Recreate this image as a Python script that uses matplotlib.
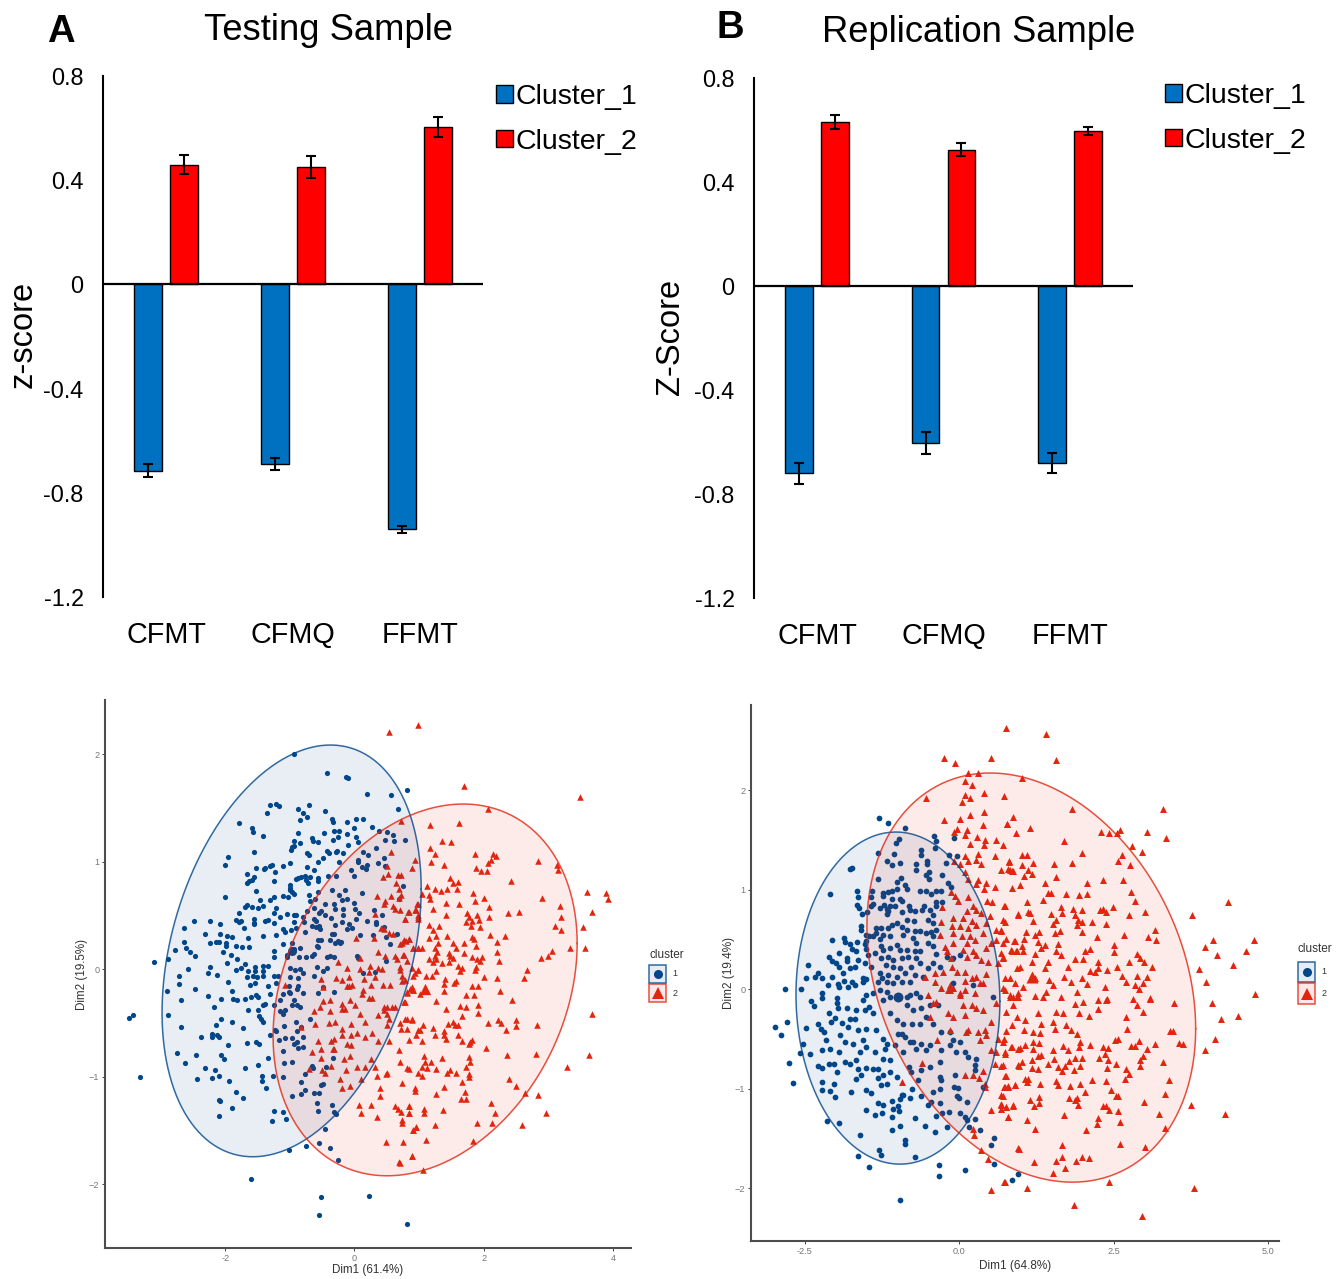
import numpy as np
import matplotlib
matplotlib.use("Agg")
import matplotlib.pyplot as plt
from matplotlib.patches import Rectangle
from matplotlib.lines import Line2D
from matplotlib.transforms import Affine2D

plt.rcParams['font.family'] = ['Liberation Sans', 'DejaVu Sans']

W, H = 1336, 1279

# bar panels
categories = ["CFMT", "CFMQ", "FFMT"]
series_names = ["Cluster_1", "Cluster_2"]
yticks_bar = [0.8, 0.4, 0, -0.4, -0.8, -1.2]
yticklabels_bar = ["0.8", "0.4", "0", "-0.4", "-0.8", "-1.2"]

testing_c1 = [-0.715, -0.69, -0.94]
testing_c1_err = [0.025, 0.023, 0.014]
testing_c2 = [0.46, 0.45, 0.605]
testing_c2_err = [0.038, 0.042, 0.038]

replication_c1 = [-0.72, -0.605, -0.68]
replication_c1_err = [0.04, 0.042, 0.038]
replication_c2 = [0.63, 0.525, 0.595]
replication_c2_err = [0.027, 0.024, 0.015]

# scatter, testing sample (Dim1, Dim2)
testing_blue = [
(-0.94,2.0),(-0.42,1.83),(-0.13,1.79),(-0.10,1.78),(0.20,1.63),(0.56,1.62),(0.82,1.67),(0.67,1.49),(-1.22,1.54),(-1.30,1.53),
(-1.16,1.52),(-1.36,1.45),(-0.71,1.53),(-0.87,1.49),(-0.80,1.45),(-0.73,1.42),(-0.85,1.39),(-0.45,1.47),(-0.34,1.40),(-0.33,1.37),
(-0.11,1.37),(0.02,1.40),(0.13,1.40),(-1.79,1.36),(-1.58,1.31),(-1.57,1.28),(-1.41,1.24),(-0.87,1.27),(-0.47,1.27),(-0.31,1.29),
(-0.24,1.29),(-0.12,1.26),(0.0,1.31),(0.27,1.32),(0.38,1.29),(0.51,1.28),(0.59,1.25),(0.78,1.20),(0.61,1.19),(0.48,1.20),
(0.03,1.23),(-0.26,1.23),(-0.33,1.20),(-0.65,1.22),(-0.64,1.19),(-0.56,1.18),(0.06,1.18),(-0.10,1.16),(0.33,1.13),(-0.94,1.19),
(-0.84,1.17),(-0.97,1.14),(-0.98,1.11),(-0.93,1.15),(-1.55,1.09),(-1.95,1.04),(-2.01,0.97),(-0.73,1.08),(-0.70,1.06),(-0.43,1.10),
(-0.39,1.08),(-0.27,1.10),(-0.29,1.09),(-0.17,1.08),(0.13,1.09),(0.21,1.06),(0.46,1.03),(-0.49,1.03),(-0.57,1.00),(-0.24,1.00),
(-1.00,0.99),(-1.11,0.96),(-1.28,0.97),(-1.31,0.96),(-1.38,0.94),(-1.40,0.93),(-1.53,0.94),(-0.73,0.95),(-0.63,0.92),(0.05,1.02),
(0.05,1.00),(0.19,0.97),(0.11,0.95),(0.18,0.93),(0.36,0.99),(0.48,0.96),(-0.06,0.92),(-1.23,0.90),(-1.66,0.89),(-1.56,0.86),
(-0.57,0.85),(-0.41,0.87),(-0.29,0.87),(0.0,0.87),(-0.82,0.86),(-0.76,0.87),(-0.91,0.84),(-0.87,0.85),(-0.69,0.86),(-0.75,0.83),
(-0.72,0.80),(-1.59,0.83),(-1.63,0.82),(-1.66,0.80),(-1.25,0.82),(-0.57,0.82),(-0.99,0.78),(-0.99,0.76),(-0.99,0.74),(0.75,0.77),
(-1.53,0.73),(-0.35,0.74),(-0.14,0.74),(-0.96,0.72),(-0.93,0.70),(-0.56,0.72),(0.11,0.71),(-0.70,0.69),(-0.24,0.69),(-1.10,0.68),
(-1.03,0.67),(-2.00,0.67),(-1.25,0.67),(-1.30,0.64),(-1.46,0.64),(-0.61,0.65),(-0.20,0.64),(-0.12,0.65),(0.69,0.65),(-0.68,0.63),
(-0.46,0.61),(-0.31,0.61),(-0.01,0.62),(-1.67,0.60),(-1.70,0.58),(-1.50,0.57),(-1.41,0.59),(-1.59,0.58),(-1.22,0.57),(-0.30,0.56),
(-0.17,0.56),(-0.62,0.57),(-0.52,0.54),(-0.55,0.52),(0.01,0.56),(0.07,0.52),(0.30,0.55),(-1.78,0.52),(-1.84,0.46),(-1.78,0.44),
(-1.76,0.45),(-1.25,0.52),(-1.05,0.51),(-1.15,0.49),(-0.94,0.50),(-0.90,0.50),(-0.80,0.49),(-0.73,0.54),(-0.45,0.50),(-0.37,0.48),
(-0.17,0.50),(0.43,0.50),(-0.62,0.47),(-0.59,0.45),(-2.49,0.45),(-2.23,0.45),(-2.08,0.42),(-1.55,0.47),(-1.56,0.43),(-1.56,0.42),
(-1.38,0.45),(-1.34,0.46),(-1.25,0.43),(-0.94,0.44),(-0.78,0.44),(-0.19,0.44),(0.02,0.47),(0.20,0.45),(0.33,0.44),(0.34,0.42),
(-1.71,0.38),(-2.63,0.38),(-1.10,0.37),(-1.07,0.35),(-0.98,0.36),(-0.91,0.38),(-0.76,0.35),(-0.65,0.40),(-0.59,0.39),(-0.55,0.40),
(-0.54,0.37),(-0.30,0.41),(-0.09,0.42),(-0.12,0.37),(-0.03,0.38),(0.45,0.39),(-2.31,0.33),(-2.08,0.33),(-1.97,0.31),(-1.90,0.30),
(-1.42,0.31),(-1.21,0.32),(-0.34,0.33),(-0.31,0.33),(0.09,0.32),(0.29,0.32),(0.66,0.33),(-1.65,0.29),(0.49,0.30),(-0.56,0.27),
(-0.52,0.27),(-0.38,0.27),(-0.22,0.24),(-0.25,0.26),(-2.63,0.25),(-2.60,0.20),(-2.55,0.16),(-2.47,0.12),(-2.14,0.25),(-2.10,0.25),
(-2.23,0.24),(-1.98,0.24),(-1.99,0.22),(-1.84,0.22),(-1.74,0.21),(-1.63,0.21),(-1.11,0.23),(-0.96,0.24),(-0.58,0.22),(-0.56,0.21),
(-0.30,0.24),(-0.21,0.25),(0.55,0.23),(-2.78,0.18),(-2.89,0.09),(-3.10,0.07),(-2.03,0.16),(-1.91,0.13),(-1.25,0.17),(-1.24,0.11),
(-0.97,0.18),(-0.94,0.19),(-0.99,0.16),(-0.85,0.20),(-1.05,0.13),(-1.05,0.11),(-0.86,0.11),(-0.75,0.11),(-0.66,0.12),(-0.63,0.14),
(-0.43,0.11),(-0.38,0.12),(-0.31,0.11),(0.04,0.12),(0.06,0.10),(-1.81,0.09),(-1.70,0.05),(-1.76,0.01),(-1.84,-0.01),(-1.97,0.06),
(-2.58,0.0),(-2.23,0.02),(-2.27,-0.04),(-2.13,-0.05),(-2.71,-0.06),(-2.71,-0.14),(-1.54,0.02),(-1.41,0.03),(-1.34,0.03),(-1.64,-0.02),
(-1.54,-0.02),(-1.42,-0.02),(-1.66,-0.07),(-1.57,-0.06),(-1.51,-0.07),(-1.41,-0.06),(-1.25,-0.06),(-1.18,-0.06),(-1.00,0.01),(-0.92,-0.01),
(-0.85,0.0),(-0.79,-0.04),(-0.99,-0.07),(-0.87,-0.08),(-0.63,-0.06),(-0.58,0.02),(-0.42,0.01),(-0.48,-0.02),(0.14,-0.04),(0.32,-0.03),
(0.49,0.08),(-1.95,-0.12),(-1.54,-0.13),(-1.61,-0.15),(-1.33,-0.16),(-1.21,-0.13),(-2.47,-0.18),(-1.02,-0.16),(-0.88,-0.16),(-2.90,-0.20),
(-1.90,-0.20),(-2.26,-0.25),(-2.68,-0.29),(-2.06,-0.28),(-1.88,-0.28),(-1.82,-0.29),(-1.69,-0.28),(-1.60,-0.255),(-1.52,-0.24),(-1.50,-0.26),
(-1.31,-0.23),(-2.18,-0.35),(-1.38,-0.32),(-1.42,-0.33),(-1.65,-0.38),(-1.49,-0.38),(-2.88,-0.43),(-3.42,-0.43),(-3.49,-0.45),(-2.07,-0.46),
(-2.14,-0.52),(-1.89,-0.49),(-2.69,-0.54),(-1.48,-0.44),(-1.45,-0.46),(-1.41,-0.49),(-1.72,-0.55),(-2.20,-0.60),(-2.20,-0.63),(-2.12,-0.61),
(-2.10,-0.63),(-2.37,-0.63),(-1.31,-0.61),(-1.67,-0.69),(-1.52,-0.68),(-1.48,-0.70),(-1.95,-0.71),(-2.74,-0.78),(-2.45,-0.80),(-2.06,-0.80),
(-2.02,-0.84),(-1.33,-0.83),(-2.62,-0.87),(-1.50,-0.89),(-2.32,-0.92),(-2.15,-0.94),(-1.70,-0.92),(-3.32,-1.0),(-2.09,-0.99),(-2.20,-1.01),
(-2.44,-1.02),(-1.94,-1.04),(-1.43,-0.99),(-1.43,-1.04),(-1.26,-0.99),(-1.37,-1.11),(-1.83,-1.14),(-1.72,-1.20),(-2.10,-1.22),(-2.08,-1.23),
(-1.90,-1.29),(-2.09,-1.37),(-1.24,-1.32),(-1.11,-1.33),(-1.28,-1.41),(-1.06,-1.39),(-1.01,-1.68),(-1.60,-1.95),(-0.51,-2.12),(0.22,-2.11),
(-0.55,-2.29),(0.82,-2.37),(-0.75,-1.65),(-0.55,-1.62),(-0.38,-1.66),(-0.25,-1.78),(-0.46,-1.49),(-0.35,-1.26),(-0.31,-1.33),(-0.29,-1.35),
(-0.57,-1.32),(-0.58,-1.25),(-0.62,-1.15),(-0.55,-1.15),(-0.51,-1.08),(-0.48,-1.07),(-0.76,-1.12),(-0.82,-1.16),(-0.97,-1.18),(-0.82,-1.05),
(-1.11,-1.0),(-1.09,-0.87),(-0.97,-0.86),(-1.11,-0.76),(-0.66,-0.90),(-0.64,-0.92),(-0.44,-0.91),(-0.76,-0.98),(-0.33,-0.83),(-0.87,-0.73),
(-0.79,-0.72),(-0.93,-0.70),(-1.17,-0.66),(-1.08,-0.64),(-0.97,-0.64),(-0.89,-0.68),(-0.79,-0.63),(-1.23,-0.57),(-1.21,-0.58),(-1.09,-0.53),
(-0.91,-0.49),(-0.89,-0.58),(-0.83,-0.54),(-0.68,-0.46),(-1.15,-0.39),(-1.11,-0.42),(-1.07,-0.38),(-0.97,-0.33),(-0.89,-0.33),(-0.85,-0.35),
(-1.25,-0.33),(-1.15,-0.29),(-0.93,-0.29),(-1.11,-0.23),(-1.02,-0.21),(-0.99,-0.22),(-0.89,-0.18),(-0.80,-0.22),(-0.57,-0.22),(-0.31,-0.21),
(-0.49,-0.17),
]

testing_red = [
(0.54,2.21),(0.99,2.27),(0.72,1.38),(0.56,1.09),(0.94,1.02),(0.89,0.94),(0.50,0.96),(0.52,0.89),(0.44,0.86),(0.67,0.88),
(0.72,0.88),(0.65,0.80),(0.69,0.75),(0.72,0.69),(0.69,0.66),(0.35,0.68),(0.56,0.68),(0.47,0.63),(0.46,0.61),(0.59,0.59),
(0.63,0.56),(0.70,0.55),(0.84,0.53),(0.94,0.55),(0.98,0.61),(0.99,0.49),(0.32,0.51),(0.78,0.47),(0.41,0.38),(0.46,0.37),
(0.54,0.34),(0.60,0.33),(0.02,0.29),(0.31,0.29),(0.84,0.28),(0.76,0.27),(0.71,0.23),(0.80,0.26),(0.73,0.24),(0.91,0.20),
(0.98,0.20),(0.36,0.16),(0.47,0.12),(0.63,0.12),(0.75,0.13),(0.81,0.08),(0.66,0.09),(-0.25,0.07),(0.08,0.10),(-0.11,0.01),
(0.08,0.0),(0.24,0.03),(0.36,0.01),(0.43,0.0),(0.71,0.02),(0.71,-0.01),(0.94,-0.04),(0.99,-0.01),(0.23,-0.03),(0.32,-0.07),
(-0.51,-0.09),(-0.28,-0.08),(-0.19,-0.10),(-0.09,-0.07),(0.15,-0.09),(0.74,-0.06),(0.73,-0.11),(-1.07,-0.15),(-0.12,-0.16),(-0.04,-0.15),
(0.26,-0.15),(0.44,-0.15),(0.55,-0.15),(0.89,-0.17),(-0.48,-0.17),(-0.09,-0.16),(0.14,-0.19),(0.82,-0.21),(0.90,-0.19),(0.12,-0.23),
(-0.38,-0.29),(-0.48,-0.30),(-0.53,-0.35),(-0.20,-0.32),(-0.07,-0.29),(0.01,-0.33),(0.22,-0.27),(0.27,-0.27),(-0.62,-0.39),(-0.38,-0.39),
(-0.20,-0.37),(-0.14,-0.37),(0.45,-0.35),(0.50,-0.35),(0.58,-0.35),(0.63,-0.35),(0.45,-0.38),(0.76,-0.31),(0.09,-0.42),(0.37,-0.43),
(0.50,-0.42),(0.53,-0.46),(-0.61,-0.51),(-0.39,-0.50),(-0.30,-0.49),(-0.05,-0.51),(0.17,-0.49),(0.50,-0.52),(0.71,-0.50),(0.81,-0.46),
(0.89,-0.46),(-0.83,-0.54),(-0.20,-0.56),(-0.06,-0.61),(0.04,-0.59),(0.17,-0.63),(0.27,-0.59),(-0.20,-0.61),(0.72,-0.56),(0.81,-0.56),
(0.99,-0.57),(-0.57,-0.67),(-0.37,-0.67),(-0.31,-0.65),(-0.12,-0.70),(-0.06,-0.71),(0.37,-0.67),(0.53,-0.67),(0.85,-0.66),(-0.66,-0.77),
(-0.52,-0.74),(-0.33,-0.74),(-0.31,-0.74),(0.69,-0.75),(0.71,-0.86),(-0.07,-0.81),(-0.16,-0.84),(-0.52,-0.83),(0.25,-0.84),(0.32,-0.91),
(-0.71,-0.93),(-0.50,-0.94),(-0.45,-0.97),(-0.37,-0.90),(-0.13,-0.94),(0.04,-0.91),(0.17,-0.91),(0.35,-0.99),(0.84,-0.93),(0.49,-0.98),
(0.51,-0.97),(-0.22,-1.02),(0.10,-1.02),(0.98,-0.97),(0.73,-1.06),(-0.20,-1.11),(-0.07,-1.09),(0.39,-1.11),(0.40,-1.18),(0.93,-1.11),
(0.07,-1.26),(0.26,-1.26),(0.63,-1.27),(0.68,-1.30),(0.85,-1.27),(0.10,-1.34),(0.35,-1.38),(0.72,-1.33),(0.85,-1.34),(0.74,-1.40),
(0.73,-1.43),(0.95,-1.47),(0.90,-1.50),(0.49,-1.61),(0.75,-1.61),(0.89,-1.74),(0.69,-1.79),(1.70,1.70),(3.49,1.60),(2.06,1.49),
(1.62,1.36),(1.17,1.34),(1.35,1.19),(1.50,1.18),(1.17,1.13),(1.24,1.07),(1.19,1.00),(1.86,1.07),(2.15,1.07),(2.19,1.05),
(2.11,1.02),(2.07,0.99),(1.38,0.97),(1.88,0.94),(1.96,0.91),(2.05,0.91),(2.84,1.01),(3.13,0.97),(3.15,0.92),(1.48,0.85),
(1.52,0.80),(1.61,0.81),(2.43,0.82),(1.13,0.77),(1.25,0.75),(1.34,0.73),(1.43,0.75),(1.59,0.75),(1.04,0.70),(1.16,0.69),
(1.17,0.65),(1.83,0.71),(2.0,0.66),(1.86,0.63),(1.42,0.62),(1.62,0.61),(2.91,0.66),(3.60,0.72),(3.89,0.71),(3.92,0.65),
(2.08,0.58),(3.18,0.59),(0.97,0.61),(1.22,0.56),(0.95,0.55),(2.38,0.52),(2.54,0.53),(3.68,0.53),(0.83,0.53),(0.99,0.50),
(0.78,0.47),(0.99,0.47),(1.41,0.50),(1.74,0.52),(1.78,0.49),(1.89,0.50),(2.08,0.49),(3.20,0.49),(1.72,0.44),(1.82,0.45),
(1.93,0.46),(1.15,0.41),(1.31,0.40),(1.81,0.40),(1.94,0.39),(3.11,0.40),(3.19,0.36),(3.54,0.39),(1.21,0.36),(2.10,0.32),
(2.33,0.31),(1.26,0.31),(1.15,0.29),(1.43,0.31),(1.82,0.30),(1.85,0.28),(0.76,0.27),(0.84,0.28),(2.20,0.25),(1.29,0.24),
(1.52,0.24),(1.70,0.24),(1.88,0.22),(0.91,0.20),(0.99,0.20),(1.05,0.20),(1.25,0.20),(1.28,0.16),(1.57,0.20),(1.70,0.15),
(2.20,0.16),(3.05,0.17),(3.33,0.20),(3.57,0.20),(1.46,0.15),(1.48,0.12),(1.24,0.12),(1.15,0.09),(1.22,0.07),(1.27,0.09),
(1.35,0.06),(1.46,0.07),(1.82,0.11),(1.97,0.11),(1.89,0.09),(1.94,0.08),(2.23,0.08),(2.88,0.10),(3.00,0.12),(1.52,0.10),
(0.76,0.13),(1.60,0.03),(1.67,0.01),(1.64,-0.02),(1.88,0.02),(1.87,-0.01),(2.67,-0.01),(2.62,-0.08),(0.89,0.01),(0.99,-0.01),
(0.90,-0.06),(0.78,-0.10),(1.11,-0.06),(1.20,-0.06),(1.26,-0.02),(1.40,-0.09),(1.38,-0.14),(2.01,-0.07),(2.20,-0.08),(1.57,-0.11),
(1.54,-0.13),(1.82,-0.16),(1.91,-0.16),(0.86,-0.18),(0.91,-0.19),(1.02,-0.23),(1.38,-0.20),(1.72,-0.24),(1.85,-0.24),(2.26,-0.20),
(0.82,-0.22),(3.68,-0.42),(2.44,-0.29),(1.27,-0.30),(1.64,-0.34),(1.72,-0.35),(1.91,-0.33),(1.42,-0.37),(1.91,-0.41),(1.66,-0.44),
(0.79,-0.31),(0.78,-0.46),(0.89,-0.47),(1.06,-0.52),(1.45,-0.51),(1.53,-0.49),(1.56,-0.52),(1.61,-0.52),(2.07,-0.50),(2.22,-0.47),
(2.27,-0.50),(2.50,-0.47),(2.50,-0.53),(2.82,-0.52),(2.35,-0.57),(1.22,-0.55),(1.02,-0.57),(0.96,-0.61),(1.38,-0.58),(1.38,-0.61),
(1.25,-0.61),(1.60,-0.61),(1.42,-0.65),(1.04,-0.67),(1.67,-0.67),(1.82,-0.66),(1.77,-0.70),(1.79,-0.68),(2.03,-0.73),(2.36,-0.80),
(2.81,-0.79),(3.63,-0.80),(1.08,-0.81),(1.09,-0.86),(1.19,-0.86),(1.35,-0.83),(1.78,-0.82),(1.79,-0.86),(1.04,-0.91),(1.12,-0.92),
(0.82,-0.92),(1.27,-0.93),(1.48,-0.94),(1.43,-0.97),(1.57,-0.97),(1.72,-0.91),(1.77,-0.98),(1.77,-1.0),(1.04,-0.99),(3.29,-0.91),
(2.39,-1.02),(2.50,-1.09),(1.67,-1.05),(1.39,-1.10),(0.94,-1.13),(1.26,-1.16),(1.71,-1.14),(1.65,-1.21),(1.72,-1.21),(2.64,-1.15),
(2.84,-1.17),(2.11,-1.25),(2.17,-1.34),(2.96,-1.34),(0.85,-1.27),(1.07,-1.30),(1.07,-1.34),(0.85,-1.34),(1.37,-1.31),(1.90,-1.43),
(2.13,-1.43),(1.25,-1.45),(2.60,-1.45),(0.95,-1.47),(0.91,-1.50),(1.11,-1.59),(1.83,-1.60),(0.89,-1.74),(1.06,-1.87),(0.71,-1.80),
]

replication_blue = [
(-1.29,1.72),(-1.15,1.67),(-0.87,1.62),(-0.09,1.52),(-0.40,1.54),(-0.37,1.49),(-0.97,1.51),(-1.02,1.47),(-0.39,1.42),(-1.32,1.37),
(-1.06,1.36),(-0.61,1.40),(-0.61,1.35),(-0.16,1.35),(-0.04,1.34),(-1.74,1.22),(-1.76,1.21),(-1.17,1.29),(-1.08,1.25),(-0.96,1.27),
(-0.69,1.26),(-0.52,1.29),(-0.52,1.26),(-0.22,1.27),(-0.48,1.18),(-0.54,1.15),(-0.48,1.11),(-0.27,1.15),(-0.70,1.20),(-1.32,1.11),
(-0.94,1.12),(-1.01,1.08),(-0.88,1.05),(-0.84,1.01),(-0.18,1.07),(-0.13,1.03),(-2.08,0.96),(-1.65,0.99),(-1.63,0.93),(-1.41,0.99),
(-1.43,0.93),(-1.23,0.97),(-1.15,0.98),(-1.09,0.99),(-1.23,0.94),(-1.0,1.01),(-0.63,0.99),(-0.53,0.99),(-0.45,0.96),(-0.37,0.99),
(-0.29,0.99),(-1.08,0.91),(-0.96,0.91),(-0.92,0.89),(-1.65,0.85),(-1.62,0.81),(-1.57,0.75),(-1.40,0.86),(-1.42,0.83),(-1.21,0.85),
(-1.28,0.81),(-1.17,0.80),(-1.12,0.83),(-1.03,0.84),(-0.81,0.83),(-0.80,0.79),(-0.72,0.78),(-0.60,0.79),(-0.57,0.83),(-0.47,0.79),
(-0.37,0.88),(-0.27,0.88),(-0.37,0.84),(-1.49,0.77),(-1.17,0.75),(-1.15,0.78),(-0.93,0.77),(-0.85,0.69),(-0.73,0.68),(-0.42,0.74),
(-0.50,0.69),(-0.42,0.66),(-1.59,0.63),(-1.59,0.59),(-1.09,0.64),(-1.01,0.66),(-1.34,0.61),(-1.27,0.61),(-1.34,0.56),(-1.15,0.61),
(-0.93,0.62),(-0.85,0.59),(-0.90,0.54),(-0.72,0.58),(-0.64,0.58),(-0.53,0.56),(-0.45,0.57),(-0.42,0.53),(-0.37,0.59),(-1.23,0.54),
(-1.28,0.50),(-1.12,0.53),(-0.75,0.51),(-0.69,0.46),(-2.05,0.49),(-1.86,0.51),(-1.84,0.47),(-1.51,0.54),(-1.46,0.53),(-1.40,0.53),
(-1.51,0.48),(-1.53,0.45),(-1.65,0.47),(-1.76,0.45),(-1.74,0.40),(-1.67,0.38),(-1.26,0.43),(-1.23,0.39),(-1.12,0.41),(-1.01,0.44),
(-0.96,0.39),(-0.85,0.39),(-0.72,0.38),(-0.64,0.38),(-0.50,0.46),(-0.42,0.43),(-0.37,0.35),(-0.10,0.31),(-0.20,0.32),(0.01,0.34),
(-1.50,0.40),(-1.47,0.34),(-1.36,0.36),(-1.94,0.36),(-2.10,0.32),(-1.81,0.31),(-1.64,0.29),(-2.05,0.28),(-1.99,0.26),(-1.95,0.22),
(-1.82,0.28),(-1.68,0.22),(-1.76,0.21),(-1.26,0.31),(-1.15,0.32),(-1.07,0.29),(-0.93,0.31),(-0.82,0.32),(-0.69,0.31),(-2.44,0.24),
(-1.52,0.26),(-1.42,0.22),(-1.18,0.24),(-1.07,0.22),(-0.96,0.21),(-0.78,0.22),(-0.64,0.26),(-0.42,0.26),(-0.31,0.22),(-0.50,0.21),
(-2.28,0.16),(-2.48,0.11),(-2.33,0.12),(-2.21,0.11),(-2.06,0.12),(-1.87,0.16),(-1.86,0.08),(-1.56,0.11),(-1.50,0.10),(-1.56,0.07),
(-1.74,0.07),(-1.69,0.04),(-1.79,0.02),(-1.28,0.16),(-1.15,0.14),(-1.01,0.12),(-0.88,0.16),(-0.72,0.14),(-0.58,0.12),(-1.31,0.07),
(-1.25,0.11),(-1.17,0.07),(-1.07,0.06),(-0.93,0.07),(-0.80,0.07),(-2.12,0.04),(-1.96,0.05),(-1.94,0.02),(-2.55,0.0),(-2.81,0.0),
(-2.22,-0.04),(-1.98,-0.09),(-1.50,-0.06),(-1.39,-0.04),(-1.28,-0.01),(-1.17,-0.03),(-0.85,-0.08),(-0.69,-0.04),(0.55,-0.08),(-0.10,0.06),
(0.23,0.04),(-2.98,-0.38),(-2.88,-0.46),(-2.78,-0.33),(-2.48,-0.39),(-2.52,-0.55),(-2.58,-0.64),(-2.41,-0.65),(-2.75,-0.74),(-2.68,-0.94),
(-2.40,-0.12),(-2.35,-0.17),(-2.22,-0.09),(-2.28,-0.35),(-2.24,-0.40),(-2.19,-0.43),(-2.15,-0.51),(-2.11,-0.24),(-2.07,-0.33),(-2.01,-0.29),
(-1.98,-0.14),(-1.96,-0.19),(-1.76,-0.30),(-1.69,-0.30),(-1.90,-0.34),(-1.82,-0.19),(-1.66,-0.21),(-1.53,-0.21),(-1.39,-0.24),(-1.45,-0.18),
(-1.55,-0.11),(-1.93,-0.46),(-1.79,-0.38),(-1.63,-0.41),(-1.50,-0.40),(-2.22,-0.61),(-2.09,-0.60),(-1.94,-0.63),(-1.85,-0.53),(-1.71,-0.55),
(-1.55,-0.51),(-2.28,-0.77),(-2.22,-0.79),(-2.11,-0.75),(-2.03,-0.75),(-1.85,-0.73),(-1.76,-0.75),(-2.22,-0.93),(-2.03,-0.95),(-1.98,-0.83),
(-2.21,-1.01),(-2.08,-1.02),(-2.0,-1.08),(-1.66,-0.71),(-1.60,-0.63),(-1.50,-0.58),(-1.36,-0.63),(-1.17,-0.55),(-1.64,-0.80),(-1.50,-0.79),
(-1.39,-0.80),(-1.31,-0.80),(-1.12,-0.83),(-1.67,-0.90),(-1.58,-0.86),(-1.32,-0.89),(-1.23,-0.86),(-1.75,-1.03),(-1.50,-1.01),(-1.42,-1.04),
(-1.27,-0.96),(-1.16,-0.95),(-1.01,-0.88),(-0.93,-1.06),(-0.90,-1.06),(-0.96,-1.10),(-0.79,-1.09),(-0.77,-1.0),(-0.61,-1.07),(-0.51,-1.16),
(-0.45,-1.13),(-1.32,-1.14),(-1.23,-1.16),(-1.09,-1.12),(-0.99,-1.17),(-1.07,-1.20),(-1.51,-1.21),(-1.36,-1.26),(-1.24,-1.24),(-1.09,-1.28),
(-0.97,-1.22),(-2.13,-1.32),(-1.94,-1.34),(-0.72,-1.29),(-0.95,-1.37),(-0.55,-1.37),(-1.09,-1.42),(-1.60,-1.47),(-0.87,-1.52),(-0.87,-1.56),
(-0.39,-1.44),(-0.37,-1.27),(-0.27,-1.24),(-0.20,-1.38),(-0.16,-1.23),(0.01,-1.24),(0.09,-1.28),(0.12,-1.31),(0.25,-1.30),(0.16,-1.38),
(0.33,-1.42),(-1.29,-1.62),(-1.27,-1.67),(-1.63,-1.68),(-1.46,-1.79),(-0.72,-1.69),(-0.33,-1.77),(-0.32,-1.88),(0.09,-1.82),(-0.96,-2.12),
(0.56,-1.76),(0.56,-1.50),(0.52,-1.57),(0.86,-1.92),(0.95,-1.86),(-0.31,-1.14),(-0.31,-1.0),(-0.42,-1.03),(-0.08,-0.98),(-0.02,-0.99),
(-0.03,-1.07),(0.0,-1.09),(0.13,-1.13),(-0.66,-0.91),(-0.61,-0.81),(-0.31,-0.88),(-0.29,-0.91),(-0.06,-0.86),(0.25,-0.76),(0.25,-0.81),
(0.39,-0.98),(-0.81,-0.78),(-0.78,-0.83),(-0.47,-0.78),(-0.31,-0.73),(-0.05,-0.63),(0.09,-0.63),(0.15,-0.68),(0.27,-0.70),(-1.04,-0.56),
(-0.90,-0.63),(-0.80,-0.53),(-0.69,-0.60),(-0.53,-0.61),(-0.47,-0.56),(-0.29,-0.61),(-0.15,-0.56),(-0.10,-0.51),(0.01,-0.53),(-0.99,-0.45),
(-0.93,-0.45),(-0.88,-0.48),(-0.74,-0.53),(-0.61,-0.55),(-1.12,-0.24),(-1.01,-0.31),(-0.90,-0.35),(-0.77,-0.35),(-0.64,-0.35),(-0.53,-0.28),
(-0.42,-0.35),(-0.29,-0.43),(-0.15,-0.43),(-0.85,-0.16),(-0.74,-0.21),(-0.61,-0.19),(-0.47,-0.16),(-0.34,-0.16),(-1.23,-0.11),(-1.12,-0.08),
(-0.99,-0.09),(-0.80,-0.06),(-0.64,-0.08),(-1.34,-0.41),(-1.23,-0.50),(-1.20,-0.60),(-1.23,-0.70),(-1.12,-0.71),
]

replication_red = [
(0.75,2.62),(-0.25,2.32),(-0.06,2.27),(0.51,2.32),(0.15,2.17),(0.30,2.17),(0.10,2.09),(0.20,2.05),(0.09,1.95),(0.40,1.97),
(0.73,1.94),(0.17,1.92),(0.04,1.88),(-0.53,1.92),(0.40,1.78),(0.17,1.75),(0.01,1.71),(0.87,1.73),(-0.24,1.70),(0.39,1.65),
(0.78,1.66),(0.13,1.60),(-0.08,1.58),(-0.04,1.61),(0.92,1.57),(0.09,1.55),(0.29,1.53),(0.41,1.50),(0.60,1.50),(0.18,1.46),
(0.40,1.45),(0.71,1.45),(0.09,1.34),(0.30,1.36),(0.58,1.34),(-0.08,1.29),(0.15,1.29),(0.28,1.30),(0.36,1.26),(0.01,1.26),
(0.81,1.28),(0.82,1.20),(0.68,1.20),(0.87,1.19),(0.09,1.18),(0.15,1.11),(0.31,1.10),(0.43,1.07),(0.28,1.06),(-0.13,0.98),
(-0.07,0.94),(-0.02,0.89),(0.15,0.93),(0.40,1.01),(0.58,1.03),(0.86,1.02),(0.23,0.84),(0.45,0.89),(0.53,0.88),(0.73,0.83),
(-0.27,0.82),(0.12,0.78),(0.28,0.79),(0.36,0.76),(0.50,0.73),(-0.10,0.71),(0.06,0.71),(0.20,0.68),(0.71,0.69),(0.95,0.74),
(-0.29,0.67),(-0.12,0.63),(0.01,0.63),(0.15,0.61),(0.28,0.64),(0.44,0.66),(-0.31,0.54),(-0.10,0.56),(0.04,0.53),(0.17,0.53),
(0.39,0.56),(0.60,0.59),(0.68,0.58),(-0.23,0.42),(-0.10,0.46),(0.12,0.46),(0.25,0.49),(0.52,0.46),(0.71,0.46),(0.90,0.48),
(-0.20,0.38),(0.06,0.39),(0.23,0.38),(0.44,0.41),(0.60,0.49),(-0.14,0.31),(0.12,0.32),(0.28,0.34),(0.68,0.36),(0.85,0.38),
(0.93,0.38),(-0.12,0.22),(-0.04,0.17),(0.09,0.17),(0.36,0.29),(0.47,0.27),(0.71,0.31),(-0.26,0.17),(-0.39,0.16),(0.20,0.11),
(0.28,0.12),(0.44,0.15),(0.63,0.26),(0.74,0.11),(0.94,0.21),(-0.55,0.12),(-0.39,0.07),(-0.15,0.04),(0.09,0.08),(0.33,0.06),
(0.82,0.11),(-0.50,-0.06),(-0.29,0.01),(-0.15,-0.01),(0.01,-0.04),(0.25,-0.04),(0.71,0.01),(0.90,0.06),(0.87,-0.08),(0.95,-0.04),
(-0.37,-0.13),(-0.42,-0.14),(-0.18,-0.01),(-0.10,0.01),(0.01,-0.06),(0.09,-0.01),(0.39,0.06),(0.74,-0.01),(0.82,-0.08),(0.93,-0.08),
(0.87,-0.16),(-0.18,-0.24),(0.06,-0.16),(0.20,-0.16),(0.28,-0.19),(-0.47,-0.28),(-0.10,-0.28),(0.09,-0.26),(0.39,-0.21),(0.60,-0.14),
(0.76,-0.23),(0.52,-0.33),(0.85,-0.36),(0.94,-0.28),(-0.15,-0.41),(0.11,-0.43),(0.15,-0.41),(0.31,-0.43),(0.41,-0.41),(0.76,-0.42),
(-0.36,-0.51),(0.33,-0.51),(0.44,-0.46),(0.63,-0.50),(0.71,-0.53),(0.52,-0.61),(0.59,-0.63),(0.74,-0.65),(0.85,-0.58),(0.95,-0.60),
(-0.60,-0.74),(0.58,-0.75),(0.71,-0.76),(0.95,-0.76),(0.39,-0.82),(0.09,-0.86),(0.23,-0.86),(0.32,-0.89),(0.41,-0.95),(0.74,-0.87),
(-0.93,-0.93),(0.41,-0.98),(0.72,-0.98),(0.79,-0.98),(0.90,-0.96),(0.71,-1.07),(0.67,-1.06),(0.68,-1.15),(0.76,-1.18),(0.87,-1.16),
(0.52,-1.21),(0.67,-1.20),(0.79,-1.28),(0.23,-1.40),(0.24,-1.47),(0.36,-1.62),(0.47,-1.71),(0.95,-1.60),(0.74,-1.94),(0.52,-2.02),
(1.41,2.56),(1.56,2.30),(1.01,2.12),(1.83,1.81),(3.30,1.81),(0.77,1.66),(1.14,1.62),(2.29,1.58),(2.43,1.57),(2.55,1.57),
(2.60,1.60),(3.04,1.58),(3.35,1.52),(1.69,1.49),(2.80,1.44),(2.96,1.38),(2.64,1.35),(1.98,1.37),(1.02,1.35),(1.09,1.35),
(2.57,1.29),(2.76,1.25),(1.82,1.27),(1.53,1.26),(1.20,1.27),(0.81,1.29),(1.02,1.25),(0.79,1.21),(0.85,1.19),(1.12,1.20),
(1.17,1.16),(1.05,1.14),(1.57,1.13),(1.38,1.07),(2.07,1.07),(2.32,1.10),(2.65,1.10),(0.98,1.05),(1.44,0.97),(1.49,0.97),
(1.72,0.96),(1.94,0.95),(2.06,0.96),(2.78,0.98),(1.36,0.90),(2.85,0.89),(1.10,0.88),(4.35,0.88),(1.65,0.82),(1.84,0.80),
(1.98,0.79),(2.27,0.79),(2.33,0.80),(2.48,0.82),(2.38,0.77),(0.74,0.83),(0.95,0.75),(1.12,0.77),(1.14,0.76),(1.48,0.75),
(1.67,0.76),(1.88,0.74),(2.74,0.74),(3.01,0.77),(3.76,0.74),(0.74,0.67),(1.20,0.68),(1.56,0.69),(1.92,0.69),(1.98,0.67),
(2.15,0.67),(2.38,0.65),(1.90,0.64),(1.52,0.65),(0.68,0.59),(1.08,0.57),(1.29,0.57),(1.55,0.56),(1.63,0.58),(1.99,0.57),
(2.66,0.54),(3.17,0.59),(3.06,0.52),(3.18,0.49),(4.11,0.49),(4.76,0.49),(3.97,0.42),(4.64,0.38),(4.17,0.34),(4.43,0.24),
(3.88,0.20),(3.99,0.07),(0.75,0.50),(0.89,0.48),(1.05,0.50),(1.22,0.54),(1.27,0.47),(1.60,0.45),(2.22,0.52),(2.50,0.44),
(2.50,0.37),(2.12,0.40),(2.03,0.38),(1.38,0.44),(1.33,0.41),(1.01,0.43),(2.88,0.35),(2.92,0.31),(2.98,0.27),(3.12,0.22),
(2.75,0.27),(0.84,0.39),(0.92,0.38),(1.03,0.38),(1.22,0.35),(1.65,0.34),(1.56,0.38),(0.71,0.32),(0.98,0.22),(1.17,0.27),
(1.43,0.27),(1.87,0.30),(1.76,0.22),(2.00,0.30),(2.25,0.27),(1.38,0.21),(2.39,0.19),(2.55,0.22),(2.64,0.13),(2.25,0.21),
(2.19,0.17),(2.11,0.18),(1.99,0.11),(1.17,0.14),(1.22,0.11),(1.45,0.09),(1.70,0.12),(1.80,0.07),(2.87,0.13),(3.03,0.12),
(2.69,0.07),(2.84,0.04),(2.90,0.0),(2.97,0.06),(2.06,0.05),(2.35,0.02),(1.52,0.04),(1.90,-0.03),(1.03,0.02),(1.41,-0.03),
(1.22,-0.07),(1.65,-0.08),(4.79,-0.05),(0.82,-0.06),(0.95,-0.08),(1.36,-0.08),(2.39,-0.10),(2.81,-0.10),(3.08,-0.09),(3.48,-0.14),
(4.09,-0.14),(4.24,-0.30),(4.50,-0.27),(4.14,-0.50),(3.98,-0.61),(3.09,-0.10),(2.87,-0.16),(2.97,-0.23),(2.70,-0.28),(2.71,-0.40),
(2.25,-0.11),(2.38,-0.11),(2.25,-0.20),(2.00,-0.13),(1.87,-0.15),(1.93,-0.24),(2.10,-0.27),(1.57,-0.23),(1.68,-0.24),(1.81,-0.41),
(1.33,-0.35),(1.52,-0.33),(1.55,-0.40),(1.73,-0.36),(1.91,-0.45),(1.06,-0.31),(1.28,-0.24),(1.20,-0.43),(1.30,-0.44),(1.05,-0.41),
(3.40,-0.42),(3.46,-0.42),(3.56,-0.54),(3.62,-0.55),(3.16,-0.55),(2.90,-0.52),(2.84,-0.57),(2.77,-0.57),(2.57,-0.50),(2.52,-0.51),
(3.03,-0.60),(2.97,-0.67),(2.92,-0.71),(2.93,-0.77),(2.33,-0.58),(2.41,-0.59),(2.35,-0.65),(2.26,-0.69),(2.40,-0.71),(2.39,-0.79),
(3.30,-0.73),(2.54,-0.75),(2.70,-0.80),(2.75,-0.85),(2.68,-0.90),(3.39,-0.91),(2.38,-0.92),(2.45,-1.01),(2.54,-1.07),(2.57,-1.07),
(3.32,-1.05),(2.98,-1.13),(3.74,-1.16),(4.29,-1.25),(2.33,-1.17),(2.38,-1.17),(2.42,-1.21),(2.57,-1.22),(3.23,-1.25),(2.60,-1.33),
(2.24,-1.29),(2.22,-1.35),(3.32,-1.39),(1.93,-0.58),(1.95,-0.53),(2.11,-0.56),(1.76,-0.61),(1.68,-0.57),(1.87,-0.69),(1.98,-0.69),
(1.77,-0.72),(1.95,-0.77),(1.85,-0.81),(1.71,-0.77),(1.60,-0.78),(1.66,-0.82),(1.43,-0.75),(1.53,-0.70),(1.33,-0.66),(1.27,-0.67),
(1.18,-0.71),(1.01,-0.73),(0.97,-0.77),(1.17,-0.79),(1.27,-0.80),(1.20,-0.53),(1.20,-0.60),(1.06,-0.56),(0.98,-0.59),(0.84,-0.58),
(1.29,-0.54),(1.52,-0.61),(0.72,-0.50),(0.74,-0.63),(0.68,-0.77),(0.75,-0.87),(1.06,-0.90),(1.12,-0.90),(1.09,-0.93),(1.30,-0.95),
(1.56,-0.92),(1.59,-0.96),(1.79,-0.97),(1.96,-0.95),(2.04,-1.03),(2.15,-0.91),(1.78,-1.09),(1.87,-1.11),(1.91,-1.09),(1.92,-1.16),
(0.90,-0.96),(0.74,-0.98),(0.79,-0.97),(1.14,-1.11),(1.29,-1.08),(1.21,-1.17),(1.29,-1.14),(0.87,-1.17),(0.75,-1.18),(0.67,-1.16),
(0.79,-1.28),(1.09,-1.31),(1.23,-1.40),(1.69,-1.26),(2.05,-1.42),(0.96,-1.61),(1.67,-1.57),(2.60,-1.56),(3.00,-1.59),(1.21,-1.74),
(1.56,-1.73),(1.66,-1.69),(1.98,-1.69),(1.89,-1.73),(2.10,-1.70),(1.71,-1.80),(1.52,-1.85),(2.42,-1.94),(1.10,-2.00),(0.73,-1.94),
(3.80,-2.00),(1.85,-2.17),(2.95,-2.28),
]

# cluster means (the bigger markers)
testing_centers = [(-0.97, 0.17), (1.09, -0.18)]
replication_centers = [(-0.99, -0.08), (1.17, 0.12)]

# ellipse: centre x, centre y, half range x, half range y, correlation
testing_ell = [(-0.972, 0.17, 2.005, 1.916, 0.30), (1.094, -0.193, 2.353, 1.73, 0.25)]
replication_ell = [(-0.99, -0.09, 1.648, 1.668, -0.02), (1.166, 0.116, 2.657, 2.055, -0.25)]

BLUE = "#00468B"
RED = "#E3250F"
BAR_BLUE = "#0070C0"
BAR_RED = "#FF0000"

fig = plt.figure(figsize=(W / 100, H / 100), dpi=100)

# pixel coords of the reference (y down) for things outside the axes
px = Affine2D().scale(1 / W, -1 / H).translate(0, 1) + fig.transFigure


def axes_px(left, top, right, bottom):
    return fig.add_axes([left / W, 1 - bottom / H, (right - left) / W, (bottom - top) / H])


def bar_panel(left, top, right, bottom, c1, c1_err, c2, c2_err):
    ax = axes_px(left, top, right, bottom)
    x = np.arange(3)
    err_style = dict(ecolor="black", elinewidth=1.5, capsize=3.8, capthick=1.5)
    ax.bar(x - 0.142, c1, 0.22, color=BAR_BLUE, edgecolor="black", linewidth=1.0,
           yerr=c1_err, error_kw=err_style, label=series_names[0])
    ax.bar(x + 0.142, c2, 0.22, color=BAR_RED, edgecolor="black", linewidth=1.0,
           yerr=c2_err, error_kw=err_style, label=series_names[1])
    ax.set_xlim(-0.5, 2.5)
    ax.set_ylim(-1.2, 0.8)
    ax.axhline(0, color="black", lw=1.6, zorder=5)
    for s in ["top", "right", "bottom"]:
        ax.spines[s].set_visible(False)
    ax.spines["left"].set_linewidth(1.5)
    ax.set_yticks(yticks_bar)
    ax.set_yticklabels(yticklabels_bar, fontsize=16.8, va="center_baseline")
    ax.set_xticks(x)
    ax.set_xticklabels(categories, fontsize=20.7)
    ax.tick_params(axis="y", length=0, pad=14)
    ax.tick_params(axis="x", length=0, pad=17)
    return ax


ax_a = bar_panel(103, 76, 483, 597, testing_c1, testing_c1_err, testing_c2, testing_c2_err)
ax_b = bar_panel(754, 78, 1133, 598, replication_c1, replication_c1_err, replication_c2, replication_c2_err)

for ax, lx, ly in [(ax_a, 496, 84), (ax_b, 1165, 83)]:
    ax.legend(loc="upper left", bbox_to_anchor=(lx / W, 1 - ly / H), bbox_transform=fig.transFigure,
              frameon=False, fontsize=20.5, handlelength=0.58, handleheight=0.58, handletextpad=0.12,
              labelspacing=0.65, borderpad=0, borderaxespad=0)

# titles and letters
def label(x, y, s, **kw):
    fig.text(x, y, s, transform=px, ha="center", va="center", **kw)


label(328, 31, "Testing Sample", fontsize=26.2)
label(979, 33, "Replication Sample", fontsize=26.2)
label(61, 32, "A", fontsize=27.5, fontweight="bold")
label(730, 28, "B", fontsize=27.5, fontweight="bold")
label(23, 334, "z-score", fontsize=23.5, rotation=90)
label(671, 337, "Z-Score", fontsize=23.5, rotation=90)


def scatter_panel(rect, xlim, ylim, xticks, xticklabels, yticks, blue, red, centers, ells, ts):
    ax = axes_px(*rect)
    bx, by = zip(*blue)
    rx, ry = zip(*red)
    ax.scatter(bx, by, s=ts[0], color=BLUE, marker="o", linewidths=0, zorder=2)
    ax.scatter(rx, ry, s=ts[1], color=RED, marker="^", linewidths=0, zorder=2.1)
    ax.scatter(*centers[0], s=ts[0] * 3, color=BLUE, marker="o", linewidths=0, zorder=2)
    ax.scatter(*centers[1], s=ts[1] * 3, color=RED, marker="^", linewidths=0, zorder=2.1)
    t = np.linspace(0, 2 * np.pi, 300)
    for (cx, cy, hx, hy, rho), col in zip(ells, [BLUE, RED]):
        ex = cx + hx * np.cos(t)
        ey = cy + hy * (rho * np.cos(t) + np.sqrt(1 - rho ** 2) * np.sin(t))
        ax.fill(ex, ey, color=col, alpha=0.09, lw=0, zorder=3)
        ax.plot(ex, ey, color=col, lw=1.1, alpha=0.8, zorder=3.1)
    ax.set_xlim(*xlim)
    ax.set_ylim(*ylim)
    ax.set_xticks(xticks)
    ax.set_xticklabels(xticklabels)
    ax.set_yticks(yticks)
    ax.tick_params(labelsize=6.6, labelcolor="#777777", length=2, width=0.7, color="#444444", pad=2)
    for s in ["top", "right"]:
        ax.spines[s].set_visible(False)
    for s in ["left", "bottom"]:
        ax.spines[s].set_linewidth(1.5)
        ax.spines[s].set_color("#4d4d4d")
    return ax


scatter_panel((105, 700, 631, 1248), (-3.86, 4.28), (-2.595, 2.505), [-2, 0, 2, 4], ["-2", "0", "2", "4"],
              [-2, -1, 0, 1, 2], testing_blue, testing_red, testing_centers, testing_ell, (14, 22))
scatter_panel((751, 705, 1279, 1241), (-3.365, 5.17), (-2.53, 2.854), [-2.5, 0, 2.5, 5], ["-2.5", "0.0", "2.5", "5.0"],
              [-2, -1, 0, 1, 2], replication_blue, replication_red, replication_centers, replication_ell, (17, 25))

label(368, 1270, "Dim1 (61.4%)", fontsize=8.4, color="#333333")
label(82, 975, "Dim2 (19.5%)", fontsize=8.4, color="#333333", rotation=90)
label(1015, 1266, "Dim1 (64.8%)", fontsize=8.5, color="#333333")
label(729, 973, "Dim2 (19.4%)", fontsize=8.5, color="#333333", rotation=90)


def cluster_key(x0, x1, y0, y1, y2, title_y, text_x):
    fig.text(x0, title_y, "cluster", transform=px, ha="left", va="center", fontsize=8.5, color="#333333")
    for (top, bot), col, mk, s, name in [((y0, y1), BLUE, "o", 6.5, "1"), ((y1 + 1, y2), RED, "^", 8, "2")]:
        fig.add_artist(Rectangle((x0, top), x1 - x0, bot - top, transform=px, facecolor=col, alpha=0.1, lw=0))
        fig.add_artist(Rectangle((x0, top), x1 - x0, bot - top, transform=px, fill=False, edgecolor=col, lw=1.1, alpha=0.8))
        fig.add_artist(Line2D([(x0 + x1) / 2], [(top + bot) / 2], transform=px, marker=mk, color=col, ms=s, lw=0, mew=0))
        fig.text(text_x, (top + bot) / 2, name, transform=px, ha="center", va="center", fontsize=6.5, color="#333333")


cluster_key(649, 666, 965, 983, 1002, 955, 675)
cluster_key(1298, 1315, 962, 982, 1004, 949, 1324)

fig.savefig("out.png", dpi=100)
